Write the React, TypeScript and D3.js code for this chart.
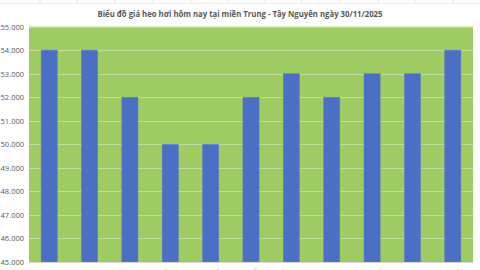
import React from "react";
import * as d3 from "d3";

const provinces = ["Thanh Hóa", "Nghệ An", "Hà Tĩnh", "Quảng Trị", "Huế", "Đà Nẵng", "Quảng Ngãi", "Gia Lai", "Đắk Lắk", "Khánh Hòa", "Lâm Đồng"];
const prices = [54, 54, 52, 50, 50, 52, 53, 52, 53, 53, 54];
const yTicks = [45, 46, 47, 48, 49, 50, 51, 52, 53, 54, 55];
const title = "Biểu đồ giá heo hơi hôm nay tại miền Trung - Tây Nguyên ngày 30/11/2025";
const sheetCols = [40, 77, 115, 153, 191, 228, 265, 302, 340, 378, 415, 453];

export default function App() {
  const W = 480, H = 270;
  const left = 29, right = 473, top = 26.6, bottom = 262;
  const x = d3.scaleBand<string>().domain(provinces).range([left, right]).paddingInner(0.6).paddingOuter(0.3);
  const y = d3.scaleLinear().domain([45, 55]).range([bottom, top]);
  const fmt = (v: number) => d3.format(".3f")(v);
  return (
    <div style={{ position: "fixed", left: 0, top: 0, width: W, height: H, overflow: "hidden", background: "#fff" }}>
      <svg width={W} height={H} style={{ display: "block" }}>
        <rect x={0} y={0} width={W} height={H} fill="#fff" />
        {sheetCols.map((c, i) => (
          <line key={i} x1={c} x2={c} y1={0} y2={3} stroke="#e2e2e2" strokeWidth={1} />
        ))}
        <line x1={0} x2={W} y1={3.5} y2={3.5} stroke="#ececec" strokeWidth={1} />
        <text x={240} y={17} textAnchor="middle" fontFamily="Open Sans, sans-serif" fontWeight="bold" fontSize={9.5}
          fill="#595959" textLength={285} lengthAdjust="spacingAndGlyphs">{title}</text>
        <rect x={left} y={top} width={right - left} height={bottom - top} fill="#9ECB62" />
        {yTicks.map((t) => (
          <g key={t}>
            <line x1={left} x2={right} y1={Math.round(y(t)) + 0.5} y2={Math.round(y(t)) + 0.5} stroke="#c2dea0" strokeWidth={1} />
            <text x={24} y={y(t) + 3} textAnchor="end" fontFamily="Open Sans, sans-serif" fontSize={7.5} fill="#595959">{fmt(t)}</text>
          </g>
        ))}
        {provinces.map((p, i) => (
          <rect key={p} x={x(p)!} y={y(prices[i])} width={x.bandwidth()} height={bottom - y(prices[i])} fill="#4A6FC3" stroke="#5a80cc" strokeWidth={0.5} />
        ))}
        <line x1={left} x2={right} y1={bottom + 0.5} y2={bottom + 0.5} stroke="#d9d9d9" strokeWidth={1} />
        {provinces.map((p) => (
          <text key={p} x={x(p)! + x.bandwidth() / 2} y={274.5} textAnchor="middle" fontFamily="Open Sans, sans-serif" fontSize={8} fill="#8a8a8a">{p}</text>
        ))}
      </svg>
    </div>
  );
}
